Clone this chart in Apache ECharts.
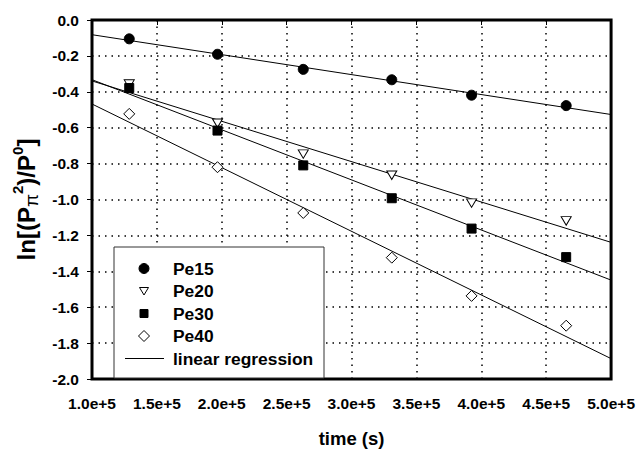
<!DOCTYPE html>
<html>
<head>
<meta charset="utf-8">
<script src="https://cdn.jsdelivr.net/npm/echarts@6/dist/echarts.min.js"></script>
<style>
  html, body { margin: 0; padding: 0; background: #fff; }
  #chart { width: 638px; height: 453px; }
</style>
</head>
<body>
<div id="chart"></div>
<script>
// Measurement times (s) shared by every run
var times = [128700, 196700, 262800, 331000, 392500, 465400];

// ln[(P_pi^2)/P^0] for each run
var pe15 = [-0.105, -0.191, -0.275, -0.333, -0.419, -0.477];
var pe20 = [-0.357, -0.575, -0.747, -0.865, -1.020, -1.119];
var pe30 = [-0.379, -0.616, -0.810, -0.993, -1.162, -1.321];
var pe40 = [-0.523, -0.820, -1.075, -1.324, -1.537, -1.703];

var seriesNames = ['Pe15', 'Pe20', 'Pe30', 'Pe40'];
var regressionName = 'linear regression';

// Axis ranges
var xRange = [100000, 500000];
var yRange = [-2.0, 0.0];

var FONT = '"Liberation Sans", Arial, sans-serif';
var TRIANGLE_DOWN = 'path://M0,0 L10,0 L5,8.5 Z';

function pairs(xs, ys) {
  return xs.map(function (x, i) { return [x, ys[i]]; });
}

// Least-squares fit, evaluated across the full x range
function regression(xs, ys) {
  var n = xs.length, mx = 0, my = 0;
  for (var i = 0; i < n; i++) { mx += xs[i]; my += ys[i]; }
  mx /= n; my /= n;
  var sxy = 0, sxx = 0;
  for (var j = 0; j < n; j++) {
    sxy += (xs[j] - mx) * (ys[j] - my);
    sxx += (xs[j] - mx) * (xs[j] - mx);
  }
  var b = sxy / sxx, a = my - b * mx;
  return xRange.map(function (x) { return [x, a + b * x]; });
}

var runs = [pe15, pe20, pe30, pe40];
var markers = [
  { symbol: 'circle', size: 10, fill: '#000' },
  { symbol: TRIANGLE_DOWN, size: [10, 8.5], fill: '#fff' },
  { symbol: 'rect', size: 9, fill: '#000' },
  { symbol: 'diamond', size: 11, fill: '#fff' }
];

var series = [];
runs.forEach(function (ys) {
  series.push({
    name: regressionName,
    type: 'line',
    data: regression(times, ys),
    symbol: 'none',
    lineStyle: { color: '#000', width: 1 },
    z: 2,
    silent: true
  });
});
runs.forEach(function (ys, k) {
  var m = markers[k];
  series.push({
    name: seriesNames[k],
    type: 'scatter',
    data: pairs(times, ys),
    symbol: m.symbol,
    symbolSize: m.size,
    itemStyle: { color: m.fill, borderColor: '#000', borderWidth: 1, opacity: 1 },
    z: 3
  });
});

// Key box: one row per run plus the fitted-line entry
var keyLeft = 114, keyTop = 247, keyW = 210, keyH = 131;
var rowY0 = 268.5, rowStep = 22.5;
var iconX = 144, textX = 173;
var KEY_FONT = 'bold 17.4px ' + FONT;
var legendIcons = [
  { type: 'circle', shape: { cx: 0, cy: 0, r: 5 }, fill: '#000' },
  { type: 'polygon', shape: { points: [[-4.5, -3.5], [4.5, -3.5], [0, 4]] }, fill: '#fff' },
  { type: 'rect', shape: { x: -4, y: -4, width: 8, height: 8 }, fill: '#000' },
  { type: 'polygon', shape: { points: [[0, -5.5], [5.5, 0], [0, 5.5], [-5.5, 0]] }, fill: '#fff' }
];
var keyElements = [{
  type: 'rect',
  shape: { x: keyLeft, y: keyTop, width: keyW, height: keyH },
  style: { fill: '#fff', stroke: '#333', lineWidth: 1 },
  z: 10
}];
seriesNames.forEach(function (name, k) {
  var ic = legendIcons[k];
  var y = rowY0 + k * rowStep;
  keyElements.push({
    type: ic.type, shape: ic.shape, x: iconX, y: y,
    style: { fill: ic.fill, stroke: '#000', lineWidth: 1 }, z: 11
  });
  keyElements.push({
    type: 'text', x: textX, y: y,
    style: { text: name, font: KEY_FONT, fill: '#000', textVerticalAlign: 'middle' },
    z: 11
  });
});
var lineRowY = rowY0 + 4 * rowStep;
keyElements.push({
  type: 'line', shape: { x1: 125, y1: lineRowY, x2: 164, y2: lineRowY },
  style: { stroke: '#000', lineWidth: 1 }, z: 11
});
keyElements.push({
  type: 'text', x: textX, y: lineRowY,
  style: { text: regressionName, font: KEY_FONT, fill: '#000', textVerticalAlign: 'middle' },
  z: 11
});

var chart = echarts.init(document.getElementById('chart'), null, { renderer: 'svg' });
chart.setOption({
  animation: false,
  backgroundColor: '#fff',
  grid: {
    left: 92, right: 26, top: 20, bottom: 67,
    show: true, borderColor: '#000', borderWidth: 3, backgroundColor: 'transparent'
  },
  graphic: keyElements,
  xAxis: {
    type: 'value',
    min: xRange[0], max: xRange[1], interval: 50000,
    name: 'time (s)',
    nameLocation: 'middle',
    nameGap: 50,
    nameTextStyle: { fontFamily: FONT, fontWeight: 'bold', fontSize: 18.5, color: '#000' },
    axisLine: { show: false },
    axisTick: { show: true, length: 5, lineStyle: { color: '#000', width: 1 } },
    axisLabel: {
      margin: 16,
      fontFamily: FONT, fontWeight: 'bold', fontSize: 15.5, color: '#000',
      formatter: function (v) { return (v / 100000).toFixed(1) + 'e+5'; }
    },
    splitLine: { show: true, lineStyle: { color: '#000', width: 1.5, type: [1.5, 5] } }
  },
  yAxis: {
    type: 'value',
    min: yRange[0], max: yRange[1], interval: 0.2,
    name: '{b|ln[(P}{pi|π}{sup|2}{b|)/P}{sup|0}{b|]}',
    nameLocation: 'middle',
    nameRotate: 90,
    nameGap: 54,
    nameTextStyle: {
      fontFamily: FONT, fontWeight: 'bold', fontSize: 24, color: '#000',
      rich: {
        b: { fontFamily: FONT, fontWeight: 'bold', fontSize: 24, color: '#000', lineHeight: 28, verticalAlign: 'bottom' },
        pi: { fontFamily: FONT, fontWeight: 'normal', fontSize: 19, color: '#000', lineHeight: 28, verticalAlign: 'bottom', padding: [0, 0, -3, 0] },
        sup: { fontFamily: FONT, fontWeight: 'bold', fontSize: 15, color: '#000', lineHeight: 15, verticalAlign: 'top' }
      }
    },
    axisLine: { show: false },
    axisTick: { show: true, length: 5, lineStyle: { color: '#000', width: 1 } },
    axisLabel: {
      margin: 13,
      fontFamily: FONT, fontWeight: 'bold', fontSize: 15.5, color: '#000',
      formatter: function (v) { return Math.abs(v) < 1e-9 ? '0.0' : v.toFixed(1); }
    },
    splitLine: { show: true, lineStyle: { color: '#000', width: 1.5, type: [1.5, 5] } }
  },
  series: series
});
</script>
</body>
</html>
